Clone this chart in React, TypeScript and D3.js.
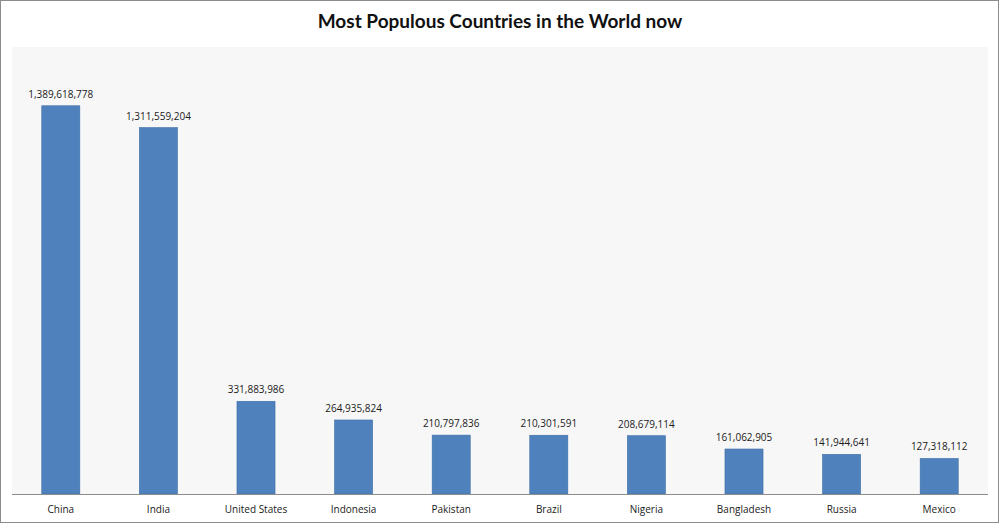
import { useRef, useEffect } from "react"
import * as d3 from "d3"

const countries = ["China", "India", "United States", "Indonesia", "Pakistan", "Brazil", "Nigeria", "Bangladesh", "Russia", "Mexico"]
const population = [1389618778, 1311559204, 331883986, 264935824, 210797836, 210301591, 208679114, 161062905, 141944641, 127318112]
const title = "Most Populous Countries in the World now"

export default function App() {
  const svgRef = useRef<SVGSVGElement>(null)

  useEffect(() => {
    document.body.style.margin = "0"
    if (!svgRef.current) return
    const svg = d3.select(svgRef.current)
    svg.selectAll("*").remove()

    const width = 1000
    const height = 524
    const plot = { left: 12, right: 988, top: 47, bottom: 494 }

    // outer chart frame
    svg.append("rect")
      .attr("x", 0.5).attr("y", 0.5)
      .attr("width", width - 2).attr("height", height - 2)
      .attr("fill", "#ffffff")
      .attr("stroke", "#8c8c8c")

    // plot area
    svg.append("rect")
      .attr("x", plot.left).attr("y", plot.top)
      .attr("width", plot.right - plot.left).attr("height", plot.bottom - plot.top)
      .attr("fill", "#f7f7f7")

    const x = d3.scaleBand()
      .domain(countries)
      .range([plot.left, plot.right])
      .paddingInner(0.61)
      .paddingOuter(0.305)

    const y = d3.scaleLinear()
      .domain([0, 1600000000])
      .range([plot.bottom, plot.top])

    const fmt = d3.format(",")

    svg.append("g")
      .selectAll("rect")
      .data(countries)
      .join("rect")
      .attr("x", (d) => x(d)!)
      .attr("y", (d, i) => y(population[i]))
      .attr("width", x.bandwidth())
      .attr("height", (d, i) => y(0) - y(population[i]))
      .attr("fill", "#4f81bd")
      .attr("stroke", "#3f6fa8")
      .attr("stroke-width", 0.6)

    // data labels
    svg.append("g")
      .selectAll("text")
      .data(countries)
      .join("text")
      .attr("x", (d) => x(d)! + x.bandwidth() / 2)
      .attr("y", (d, i) => y(population[i]) - 8)
      .attr("text-anchor", "middle")
      .attr("font-family", "'Open Sans', 'DejaVu Sans', sans-serif")
      .attr("font-size", "10px")
      .attr("fill", "#1a1a1a")
      .text((d, i) => fmt(population[i]))

    // category axis
    const xAxis = svg.append("g")
      .attr("transform", `translate(0, ${plot.bottom})`)
      .call(d3.axisBottom(x).tickSize(0).tickPadding(12))
    xAxis.select(".domain")
      .attr("stroke", "#8c8c8c")
      .attr("d", `M${plot.left},0.5H${plot.right}`)
    xAxis.selectAll("text")
      .attr("font-family", "'Open Sans', 'DejaVu Sans', sans-serif")
      .attr("font-size", "10px")
      .attr("fill", "#1a1a1a")

    // title
    svg.append("text")
      .attr("x", width / 2)
      .attr("y", 28)
      .attr("text-anchor", "middle")
      .attr("font-family", "Lato, 'Open Sans', sans-serif")
      .attr("font-weight", 700)
      .attr("font-size", "19px")
      .attr("fill", "#111")
      .text(title)
  }, [])

  return <svg ref={svgRef} width={1000} height={524} style={{ display: "block" }} />
}
